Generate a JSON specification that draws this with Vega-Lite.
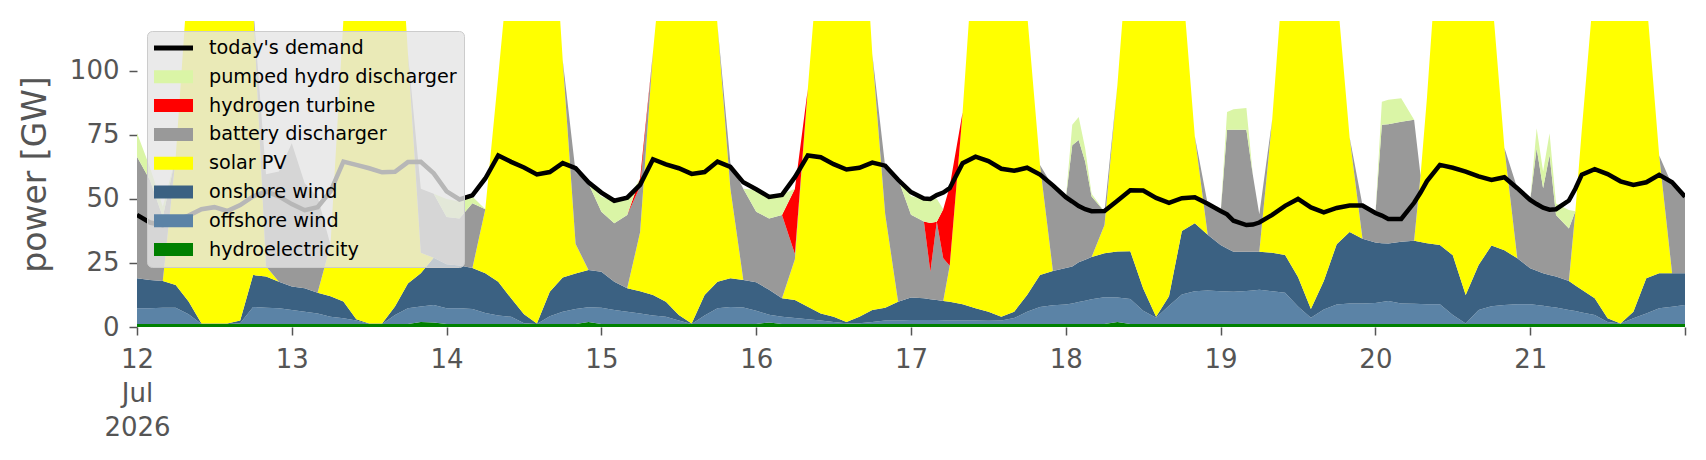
{
  "$schema": "https://vega.github.io/schema/vega-lite/v6.json",
  "width": 1548,
  "height": 306,
  "autosize": "none",
  "padding": {"left": 137, "top": 21, "right": 21, "bottom": 133},
  "background": "white",
  "config": {"view": {"stroke": null}, "font": "DejaVu Sans"},
  "datasets": {
    "stackorder": [
      {"src": "hy", "o": 1},
      {"src": "off", "o": 2},
      {"src": "on", "o": 3},
      {"src": "pv", "o": 4},
      {"src": "bat", "o": 5},
      {"src": "h2", "o": 6},
      {"src": "ph", "o": 7}
    ]
  },
  "data": {"values": [
    {"d": "2026-07-12T00:00", "hy": 1.2, "off": 6.1, "on": 11.7, "pv": 0, "bat": 47.5, "h2": 0, "ph": 9.3, "dem": 43.8},
    {"d": "2026-07-12T02:00", "hy": 1.2, "off": 6.1, "on": 11.1, "pv": 0, "bat": 39, "h2": 0, "ph": 5, "dem": 40.8},
    {"d": "2026-07-12T04:00", "hy": 1.2, "off": 6.3, "on": 10.5, "pv": 0, "bat": 25, "h2": 0, "ph": 4, "dem": 39.8},
    {"d": "2026-07-12T06:00", "hy": 1.2, "off": 6.3, "on": 8.9, "pv": 50, "bat": 0, "h2": 0, "ph": 0, "dem": 41.6},
    {"d": "2026-07-12T08:00", "hy": 1.2, "off": 3.8, "on": 5, "pv": 130, "bat": 0, "h2": 0, "ph": 0, "dem": 43.5},
    {"d": "2026-07-12T10:00", "hy": 1.2, "off": 0, "on": 0.2, "pv": 180, "bat": 0, "h2": 0, "ph": 0, "dem": 46},
    {"d": "2026-07-12T12:00", "hy": 1.2, "off": 0, "on": 0.2, "pv": 210, "bat": 0, "h2": 0, "ph": 0, "dem": 46.8},
    {"d": "2026-07-12T14:00", "hy": 1.2, "off": 0, "on": 0.2, "pv": 200, "bat": 0, "h2": 0, "ph": 0, "dem": 45.3},
    {"d": "2026-07-12T16:00", "hy": 1.2, "off": 0.3, "on": 1, "pv": 165, "bat": 0, "h2": 0, "ph": 0, "dem": 47.6},
    {"d": "2026-07-12T18:00", "hy": 1.2, "off": 6.6, "on": 12.5, "pv": 105, "bat": 0, "h2": 0, "ph": 0, "dem": 51},
    {"d": "2026-07-12T20:00", "hy": 1.2, "off": 6.3, "on": 12.2, "pv": 4, "bat": 36, "h2": 0, "ph": 0, "dem": 53},
    {"d": "2026-07-12T22:00", "hy": 1.2, "off": 6.1, "on": 10.4, "pv": 0, "bat": 43, "h2": 0, "ph": 0, "dem": 51},
    {"d": "2026-07-13T00:00", "hy": 1.2, "off": 5.4, "on": 9.2, "pv": 0, "bat": 56, "h2": 0, "ph": 0, "dem": 48},
    {"d": "2026-07-13T02:00", "hy": 1.2, "off": 4.8, "on": 9.1, "pv": 0, "bat": 41, "h2": 0, "ph": 0, "dem": 45.6},
    {"d": "2026-07-13T04:00", "hy": 1.2, "off": 4.1, "on": 8.1, "pv": 0, "bat": 37.5, "h2": 0, "ph": 0, "dem": 46.8},
    {"d": "2026-07-13T06:00", "hy": 1.2, "off": 2.8, "on": 8, "pv": 20, "bat": 0, "h2": 0, "ph": 0, "dem": 53},
    {"d": "2026-07-13T08:00", "hy": 1.2, "off": 2.2, "on": 6.6, "pv": 110, "bat": 0, "h2": 0, "ph": 0, "dem": 64.6},
    {"d": "2026-07-13T10:00", "hy": 1.2, "off": 1.3, "on": 0.5, "pv": 170, "bat": 0, "h2": 0, "ph": 0, "dem": 63.3},
    {"d": "2026-07-13T12:00", "hy": 1.2, "off": 0, "on": 0.2, "pv": 200, "bat": 0, "h2": 0, "ph": 0, "dem": 62},
    {"d": "2026-07-13T14:00", "hy": 1.2, "off": 0, "on": 0.2, "pv": 200, "bat": 0, "h2": 0, "ph": 0, "dem": 60.4},
    {"d": "2026-07-13T16:00", "hy": 1.2, "off": 3.5, "on": 3.3, "pv": 180, "bat": 0, "h2": 0, "ph": 0, "dem": 60.6},
    {"d": "2026-07-13T18:00", "hy": 1.2, "off": 6.1, "on": 9.7, "pv": 90, "bat": 0, "h2": 0, "ph": 0, "dem": 64.4},
    {"d": "2026-07-13T20:00", "hy": 2, "off": 6, "on": 13, "pv": 8, "bat": 25, "h2": 0, "ph": 0, "dem": 64.5},
    {"d": "2026-07-13T22:00", "hy": 1.8, "off": 6.8, "on": 18.4, "pv": 0, "bat": 25, "h2": 0, "ph": 0, "dem": 60},
    {"d": "2026-07-14T00:00", "hy": 1.2, "off": 6.1, "on": 17.2, "pv": 0, "bat": 18.5, "h2": 0, "ph": 7, "dem": 53},
    {"d": "2026-07-14T02:00", "hy": 1.2, "off": 6.1, "on": 16.7, "pv": 0, "bat": 18.4, "h2": 0, "ph": 6.6, "dem": 49.8},
    {"d": "2026-07-14T04:00", "hy": 1.2, "off": 5.8, "on": 16, "pv": 0, "bat": 25.3, "h2": 0, "ph": 2.7, "dem": 51.4},
    {"d": "2026-07-14T06:00", "hy": 1.2, "off": 4.3, "on": 15.5, "pv": 25, "bat": 0, "h2": 0, "ph": 0, "dem": 58},
    {"d": "2026-07-14T08:00", "hy": 1.2, "off": 3.3, "on": 13.2, "pv": 80, "bat": 0, "h2": 0, "ph": 0, "dem": 67},
    {"d": "2026-07-14T10:00", "hy": 1.2, "off": 2.8, "on": 7.2, "pv": 140, "bat": 0, "h2": 0, "ph": 0, "dem": 64.5},
    {"d": "2026-07-14T12:00", "hy": 1.2, "off": 0.3, "on": 3.5, "pv": 190, "bat": 0, "h2": 0, "ph": 0, "dem": 62.3},
    {"d": "2026-07-14T14:00", "hy": 1.2, "off": 0, "on": 0.2, "pv": 200, "bat": 0, "h2": 0, "ph": 0, "dem": 59.6},
    {"d": "2026-07-14T16:00", "hy": 1.2, "off": 3, "on": 9.6, "pv": 170, "bat": 0, "h2": 0, "ph": 0, "dem": 60.5},
    {"d": "2026-07-14T18:00", "hy": 1.2, "off": 4.8, "on": 13.3, "pv": 85, "bat": 0, "h2": 0, "ph": 0, "dem": 64},
    {"d": "2026-07-14T20:00", "hy": 1.2, "off": 5.8, "on": 13.9, "pv": 11.5, "bat": 28, "h2": 0, "ph": 0, "dem": 62},
    {"d": "2026-07-14T22:00", "hy": 2, "off": 5.7, "on": 14.6, "pv": 0, "bat": 33.7, "h2": 0, "ph": 0, "dem": 56.5},
    {"d": "2026-07-15T00:00", "hy": 1.2, "off": 6.3, "on": 14.1, "pv": 0, "bat": 23.4, "h2": 0, "ph": 6, "dem": 52.5},
    {"d": "2026-07-15T02:00", "hy": 1.2, "off": 5.4, "on": 11.1, "pv": 0, "bat": 22.8, "h2": 0, "ph": 8.5, "dem": 49.3},
    {"d": "2026-07-15T04:00", "hy": 1.2, "off": 4.8, "on": 9.1, "pv": 0, "bat": 28.6, "h2": 0, "ph": 6, "dem": 50.5},
    {"d": "2026-07-15T06:00", "hy": 1.2, "off": 4.1, "on": 8.7, "pv": 23, "bat": 18, "h2": 3, "ph": 0, "dem": 55.5},
    {"d": "2026-07-15T08:00", "hy": 1.2, "off": 3.3, "on": 8, "pv": 95, "bat": 0, "h2": 0, "ph": 0, "dem": 65.5},
    {"d": "2026-07-15T10:00", "hy": 1.2, "off": 2.8, "on": 5.9, "pv": 150, "bat": 0, "h2": 0, "ph": 0, "dem": 63.5},
    {"d": "2026-07-15T12:00", "hy": 1.2, "off": 1.3, "on": 2.2, "pv": 190, "bat": 0, "h2": 0, "ph": 0, "dem": 62},
    {"d": "2026-07-15T14:00", "hy": 1.2, "off": 0, "on": 0.2, "pv": 200, "bat": 0, "h2": 0, "ph": 0, "dem": 59.8},
    {"d": "2026-07-15T16:00", "hy": 1.2, "off": 3.3, "on": 8, "pv": 180, "bat": 0, "h2": 0, "ph": 0, "dem": 60.5},
    {"d": "2026-07-15T18:00", "hy": 1.2, "off": 6.1, "on": 10.4, "pv": 100, "bat": 0, "h2": 0, "ph": 0, "dem": 64.6},
    {"d": "2026-07-15T20:00", "hy": 1.2, "off": 6.6, "on": 11.2, "pv": 35, "bat": 10, "h2": 0, "ph": 0, "dem": 62.5},
    {"d": "2026-07-15T22:00", "hy": 1.2, "off": 6.4, "on": 10.8, "pv": 0, "bat": 35.6, "h2": 0, "ph": 0, "dem": 56.5},
    {"d": "2026-07-16T00:00", "hy": 1.2, "off": 5.1, "on": 11.2, "pv": 0, "bat": 27.5, "h2": 0, "ph": 8.5, "dem": 53.8},
    {"d": "2026-07-16T02:00", "hy": 1.8, "off": 3, "on": 9.7, "pv": 0, "bat": 27.9, "h2": 0, "ph": 9.2, "dem": 50.8},
    {"d": "2026-07-16T04:00", "hy": 1.2, "off": 2.8, "on": 7.2, "pv": 0, "bat": 32.5, "h2": 0, "ph": 8, "dem": 51.6},
    {"d": "2026-07-16T06:00", "hy": 1.2, "off": 2.3, "on": 7, "pv": 16, "bat": 2, "h2": 25.5, "ph": 0, "dem": 58.5},
    {"d": "2026-07-16T08:00", "hy": 1.2, "off": 1.8, "on": 4.9, "pv": 85, "bat": 0, "h2": 0, "ph": 0, "dem": 67},
    {"d": "2026-07-16T10:00", "hy": 1.2, "off": 1.3, "on": 2.8, "pv": 150, "bat": 0, "h2": 0, "ph": 0, "dem": 66.3},
    {"d": "2026-07-16T12:00", "hy": 1.2, "off": 0.8, "on": 2, "pv": 190, "bat": 0, "h2": 0, "ph": 0, "dem": 63.6},
    {"d": "2026-07-16T14:00", "hy": 1.2, "off": 0.3, "on": 0.5, "pv": 200, "bat": 0, "h2": 0, "ph": 0, "dem": 61.5},
    {"d": "2026-07-16T16:00", "hy": 1.2, "off": 0.3, "on": 2.5, "pv": 185, "bat": 0, "h2": 0, "ph": 0, "dem": 62.2},
    {"d": "2026-07-16T18:00", "hy": 1.2, "off": 0.8, "on": 4.6, "pv": 100, "bat": 0, "h2": 0, "ph": 0, "dem": 64.2},
    {"d": "2026-07-16T20:00", "hy": 1.2, "off": 1.3, "on": 5, "pv": 36.5, "bat": 18.6, "h2": 0, "ph": 0, "dem": 63},
    {"d": "2026-07-16T22:00", "hy": 1.2, "off": 1.3, "on": 7.4, "pv": 0, "bat": 48, "h2": 0, "ph": 0, "dem": 57.5},
    {"d": "2026-07-17T00:00", "hy": 1.2, "off": 1.5, "on": 8.8, "pv": 0, "bat": 32.3, "h2": 0, "ph": 7.3, "dem": 52.7},
    {"d": "2026-07-17T02:00", "hy": 1.2, "off": 1.5, "on": 8.5, "pv": 0, "bat": 30, "h2": 0, "ph": 9, "dem": 50.2},
    {"d": "2026-07-17T03:00", "hy": 1.2, "off": 1.5, "on": 8.1, "pv": 0, "bat": 10.8, "h2": 19, "ph": 10, "dem": 50},
    {"d": "2026-07-17T04:00", "hy": 1.2, "off": 1.5, "on": 7.8, "pv": 0, "bat": 30.6, "h2": 0, "ph": 9, "dem": 51.5},
    {"d": "2026-07-17T05:00", "hy": 1.2, "off": 1.4, "on": 7.6, "pv": 0, "bat": 16.6, "h2": 19.2, "ph": 0, "dem": 52.5},
    {"d": "2026-07-17T06:00", "hy": 1.2, "off": 1.3, "on": 7.4, "pv": 14, "bat": 0, "h2": 31, "ph": 0, "dem": 54.2},
    {"d": "2026-07-17T08:00", "hy": 1.2, "off": 1.3, "on": 6.4, "pv": 75, "bat": 0, "h2": 0, "ph": 0, "dem": 64},
    {"d": "2026-07-17T10:00", "hy": 1.2, "off": 1.3, "on": 4.8, "pv": 150, "bat": 0, "h2": 0, "ph": 0, "dem": 66.5},
    {"d": "2026-07-17T12:00", "hy": 1.2, "off": 1.2, "on": 3.6, "pv": 190, "bat": 0, "h2": 0, "ph": 0, "dem": 64.8},
    {"d": "2026-07-17T14:00", "hy": 1.2, "off": 1.3, "on": 1.5, "pv": 195, "bat": 0, "h2": 0, "ph": 0, "dem": 61.8},
    {"d": "2026-07-17T16:00", "hy": 1.2, "off": 2.3, "on": 2.5, "pv": 170, "bat": 0, "h2": 0, "ph": 0, "dem": 61},
    {"d": "2026-07-17T18:00", "hy": 1.2, "off": 4.8, "on": 6.5, "pv": 110, "bat": 0, "h2": 0, "ph": 0, "dem": 62.2},
    {"d": "2026-07-17T20:00", "hy": 1.2, "off": 6.6, "on": 12.5, "pv": 43, "bat": 0, "h2": 0, "ph": 0, "dem": 59.5},
    {"d": "2026-07-17T22:00", "hy": 1.2, "off": 7.3, "on": 13.4, "pv": 0, "bat": 33, "h2": 0, "ph": 0, "dem": 55.3},
    {"d": "2026-07-18T00:00", "hy": 1.2, "off": 7.6, "on": 14.2, "pv": 0, "bat": 27, "h2": 0, "ph": 0, "dem": 50.7},
    {"d": "2026-07-18T01:00", "hy": 1.2, "off": 8, "on": 14.4, "pv": 0, "bat": 47.4, "h2": 0, "ph": 8, "dem": 49},
    {"d": "2026-07-18T02:00", "hy": 1.2, "off": 8.6, "on": 15.5, "pv": 0, "bat": 47.7, "h2": 0, "ph": 9, "dem": 47.2},
    {"d": "2026-07-18T03:00", "hy": 1.2, "off": 9.1, "on": 16, "pv": 0, "bat": 38.3, "h2": 0, "ph": 5.2, "dem": 46},
    {"d": "2026-07-18T04:00", "hy": 1.2, "off": 9.6, "on": 16.5, "pv": 0, "bat": 23.7, "h2": 0, "ph": 1, "dem": 45.2},
    {"d": "2026-07-18T06:00", "hy": 1.2, "off": 10.4, "on": 17.2, "pv": 11, "bat": 5.2, "h2": 0, "ph": 0, "dem": 45.3},
    {"d": "2026-07-18T08:00", "hy": 2, "off": 9.5, "on": 18, "pv": 65, "bat": 0, "h2": 0, "ph": 0, "dem": 49.3},
    {"d": "2026-07-18T10:00", "hy": 1.2, "off": 9.7, "on": 18.7, "pv": 130, "bat": 0, "h2": 0, "ph": 0, "dem": 53.4},
    {"d": "2026-07-18T12:00", "hy": 1.2, "off": 5.1, "on": 8.7, "pv": 180, "bat": 0, "h2": 0, "ph": 0, "dem": 53.3},
    {"d": "2026-07-18T14:00", "hy": 1.2, "off": 2.4, "on": 0.4, "pv": 200, "bat": 0, "h2": 0, "ph": 0, "dem": 50.4},
    {"d": "2026-07-18T16:00", "hy": 1.2, "off": 7.1, "on": 3.7, "pv": 190, "bat": 0, "h2": 0, "ph": 0, "dem": 48.5},
    {"d": "2026-07-18T18:00", "hy": 1.2, "off": 11.5, "on": 24.8, "pv": 100, "bat": 0, "h2": 0, "ph": 0, "dem": 50.3},
    {"d": "2026-07-18T20:00", "hy": 1.2, "off": 12.8, "on": 26.5, "pv": 34, "bat": 0, "h2": 0, "ph": 0, "dem": 50.7},
    {"d": "2026-07-18T22:00", "hy": 1.2, "off": 13.1, "on": 21.7, "pv": 0, "bat": 12, "h2": 0, "ph": 0, "dem": 48.1},
    {"d": "2026-07-19T00:00", "hy": 1.2, "off": 12.8, "on": 18, "pv": 0, "bat": 12.5, "h2": 0, "ph": 0, "dem": 45.3},
    {"d": "2026-07-19T01:00", "hy": 1.2, "off": 12.7, "on": 16.8, "pv": 0, "bat": 46.3, "h2": 0, "ph": 7, "dem": 44},
    {"d": "2026-07-19T02:00", "hy": 1.2, "off": 12.6, "on": 15.6, "pv": 0, "bat": 47.6, "h2": 0, "ph": 8, "dem": 41.5},
    {"d": "2026-07-19T04:00", "hy": 1.2, "off": 12.9, "on": 15.3, "pv": 0, "bat": 47.6, "h2": 0, "ph": 8.5, "dem": 39.8},
    {"d": "2026-07-19T05:00", "hy": 1.2, "off": 13.1, "on": 15.1, "pv": 0, "bat": 30, "h2": 0, "ph": 0, "dem": 40},
    {"d": "2026-07-19T06:00", "hy": 1.2, "off": 13.3, "on": 14.9, "pv": 0, "bat": 14.6, "h2": 0, "ph": 0, "dem": 40.8},
    {"d": "2026-07-19T08:00", "hy": 1.2, "off": 12.8, "on": 15, "pv": 52, "bat": 0, "h2": 0, "ph": 0, "dem": 43.8},
    {"d": "2026-07-19T10:00", "hy": 1.2, "off": 12.2, "on": 14.7, "pv": 120, "bat": 0, "h2": 0, "ph": 0, "dem": 47.3},
    {"d": "2026-07-19T12:00", "hy": 1.2, "off": 6.8, "on": 11.5, "pv": 180, "bat": 0, "h2": 0, "ph": 0, "dem": 50},
    {"d": "2026-07-19T14:00", "hy": 1.2, "off": 2.4, "on": 3.4, "pv": 200, "bat": 0, "h2": 0, "ph": 0, "dem": 46.7},
    {"d": "2026-07-19T16:00", "hy": 1.2, "off": 5.6, "on": 11.2, "pv": 190, "bat": 0, "h2": 0, "ph": 0, "dem": 44.8},
    {"d": "2026-07-19T18:00", "hy": 1.2, "off": 7.6, "on": 23.5, "pv": 100, "bat": 0, "h2": 0, "ph": 0, "dem": 46.5},
    {"d": "2026-07-19T20:00", "hy": 1.2, "off": 8, "on": 27.9, "pv": 37, "bat": 0, "h2": 0, "ph": 0, "dem": 47.4},
    {"d": "2026-07-19T22:00", "hy": 1.2, "off": 8, "on": 25.3, "pv": 0, "bat": 13, "h2": 0, "ph": 0, "dem": 47.4},
    {"d": "2026-07-20T00:00", "hy": 1.2, "off": 8.2, "on": 23.6, "pv": 0, "bat": 11, "h2": 0, "ph": 0, "dem": 44.5},
    {"d": "2026-07-20T01:00", "hy": 1.2, "off": 8.6, "on": 22.9, "pv": 0, "bat": 46.3, "h2": 0, "ph": 9, "dem": 43.5},
    {"d": "2026-07-20T02:00", "hy": 1.2, "off": 9, "on": 22.4, "pv": 0, "bat": 46.6, "h2": 0, "ph": 9.5, "dem": 42.2},
    {"d": "2026-07-20T04:00", "hy": 1.2, "off": 8, "on": 24.1, "pv": 0, "bat": 46.9, "h2": 0, "ph": 9.1, "dem": 42.2},
    {"d": "2026-07-20T06:00", "hy": 1.2, "off": 7.9, "on": 24.6, "pv": 0, "bat": 47.2, "h2": 0, "ph": 0, "dem": 48.5},
    {"d": "2026-07-20T07:00", "hy": 1.2, "off": 7.8, "on": 24.2, "pv": 26, "bat": 0, "h2": 0, "ph": 0, "dem": 52.5},
    {"d": "2026-07-20T08:00", "hy": 1.2, "off": 7.7, "on": 23.8, "pv": 57, "bat": 0, "h2": 0, "ph": 0, "dem": 57},
    {"d": "2026-07-20T10:00", "hy": 1.2, "off": 7.7, "on": 23.1, "pv": 130, "bat": 0, "h2": 0, "ph": 0, "dem": 63.3},
    {"d": "2026-07-20T12:00", "hy": 1.2, "off": 3.5, "on": 23.3, "pv": 180, "bat": 0, "h2": 0, "ph": 0, "dem": 62.2},
    {"d": "2026-07-20T14:00", "hy": 1.2, "off": 0.2, "on": 11.1, "pv": 200, "bat": 0, "h2": 0, "ph": 0, "dem": 60.7},
    {"d": "2026-07-20T16:00", "hy": 1.2, "off": 5.4, "on": 17.6, "pv": 190, "bat": 0, "h2": 0, "ph": 0, "dem": 58.8},
    {"d": "2026-07-20T18:00", "hy": 1.2, "off": 6.9, "on": 23.7, "pv": 100, "bat": 0, "h2": 0, "ph": 0, "dem": 57.4},
    {"d": "2026-07-20T20:00", "hy": 1.2, "off": 7.4, "on": 21.4, "pv": 40, "bat": 0, "h2": 0, "ph": 0, "dem": 58.5},
    {"d": "2026-07-20T22:00", "hy": 1.2, "off": 7.7, "on": 17.9, "pv": 0, "bat": 27.4, "h2": 0, "ph": 0, "dem": 54.2},
    {"d": "2026-07-21T00:00", "hy": 1.2, "off": 7.7, "on": 14, "pv": 0, "bat": 26.7, "h2": 0, "ph": 0, "dem": 49.6},
    {"d": "2026-07-21T01:00", "hy": 1.2, "off": 7.4, "on": 13.4, "pv": 0, "bat": 47.8, "h2": 0, "ph": 7.8, "dem": 48},
    {"d": "2026-07-21T02:00", "hy": 1.2, "off": 7.1, "on": 12.7, "pv": 0, "bat": 33.2, "h2": 0, "ph": 6.5, "dem": 46.6},
    {"d": "2026-07-21T03:00", "hy": 1.2, "off": 6.7, "on": 12.4, "pv": 0, "bat": 46.9, "h2": 0, "ph": 8.5, "dem": 45.8},
    {"d": "2026-07-21T04:00", "hy": 1.2, "off": 6.4, "on": 12.1, "pv": 0, "bat": 24, "h2": 0, "ph": 4.5, "dem": 46},
    {"d": "2026-07-21T06:00", "hy": 1.2, "off": 5.4, "on": 11.4, "pv": 0, "bat": 20.5, "h2": 0, "ph": 7.2, "dem": 49.4},
    {"d": "2026-07-21T07:00", "hy": 1.2, "off": 5, "on": 10, "pv": 29, "bat": 0, "h2": 0, "ph": 0, "dem": 54},
    {"d": "2026-07-21T08:00", "hy": 1.2, "off": 4.5, "on": 8.8, "pv": 62.5, "bat": 0, "h2": 0, "ph": 0, "dem": 59.5},
    {"d": "2026-07-21T10:00", "hy": 1.2, "off": 3.5, "on": 6.5, "pv": 125, "bat": 0, "h2": 0, "ph": 0, "dem": 61.6},
    {"d": "2026-07-21T12:00", "hy": 1.2, "off": 0.8, "on": 1.4, "pv": 180, "bat": 0, "h2": 0, "ph": 0, "dem": 59.7},
    {"d": "2026-07-21T14:00", "hy": 1.2, "off": 0.2, "on": 0, "pv": 200, "bat": 0, "h2": 0, "ph": 0, "dem": 56.9},
    {"d": "2026-07-21T16:00", "hy": 1.2, "off": 2.2, "on": 2.6, "pv": 190, "bat": 0, "h2": 0, "ph": 0, "dem": 55.5},
    {"d": "2026-07-21T18:00", "hy": 1.2, "off": 4.1, "on": 13.7, "pv": 110, "bat": 0, "h2": 0, "ph": 0, "dem": 56.5},
    {"d": "2026-07-21T20:00", "hy": 1.2, "off": 6.1, "on": 13.7, "pv": 46, "bat": 0, "h2": 0, "ph": 0, "dem": 59.4},
    {"d": "2026-07-21T22:00", "hy": 1.2, "off": 6.7, "on": 13.1, "pv": 0, "bat": 34.5, "h2": 0, "ph": 0, "dem": 56.5},
    {"d": "2026-07-22T00:00", "hy": 1.2, "off": 7.4, "on": 12.4, "pv": 0, "bat": 30, "h2": 0, "ph": 0, "dem": 50.9}
  ]},
  "encoding": {
    "x": {
      "field": "d",
      "type": "temporal",
      "scale": {"domain": [{"year": 2026, "month": 7, "date": 12}, {"year": 2026, "month": 7, "date": 22}]},
      "axis": {
        "title": null,
        "domain": false,
        "grid": false,
        "tickCount": {"interval": "day", "step": 1},
        "tickSize": 8,
        "tickWidth": 1.5,
        "tickColor": "#555555",
        "labelFont": "DejaVu Sans",
        "labelFontSize": 26,
        "labelColor": "#555555",
        "labelPadding": 11,
        "labelLineHeight": 34,
        "labelFlush": false,
        "labelOverlap": false,
        "labelExpr": "date(datum.value) == 12 ? ['12', 'Jul', '2026'] : (date(datum.value) == 22 ? '' : timeFormat(datum.value, '%d'))"
      }
    }
  },
  "layer": [
    {
      "transform": [
        {"fold": ["hy", "off", "on", "pv", "bat", "h2", "ph"], "as": ["src", "gw"]},
        {"lookup": "src", "from": {"data": {"name": "stackorder"}, "key": "src", "fields": ["o"]}}
      ],
      "mark": {"type": "area", "clip": true},
      "encoding": {
        "y": {
          "field": "gw",
          "type": "quantitative",
          "stack": "zero",
          "scale": {"domain": [0, 119.5], "nice": false},
          "axis": {
            "title": "power [GW]",
            "values": [0, 25, 50, 75, 100],
            "domain": false,
            "grid": false,
            "tickSize": 8,
            "tickWidth": 1.5,
            "tickColor": "#555555",
            "labelFont": "DejaVu Sans",
            "labelFontSize": 26,
            "labelColor": "#555555",
            "labelPadding": 10,
            "titleFont": "DejaVu Sans",
            "titleFontSize": 33,
            "titleFontWeight": "normal",
            "titleColor": "#555555",
            "titlePadding": 17
          }
        },
        "order": {"field": "o", "type": "quantitative", "sort": "ascending"},
        "color": {
          "field": "src",
          "type": "nominal",
          "sort": ["dem", "ph", "h2", "bat", "pv", "on", "off", "hy"],
          "scale": {
            "domain": ["dem", "ph", "h2", "bat", "pv", "on", "off", "hy"],
            "range": ["#000000", "#daf5a6", "#ff0000", "#999999", "#ffff00", "#3b6182", "#5b83a6", "#008000"]
          },
          "legend": {
            "title": null,
            "orient": "top-left",
            "offset": 10,
            "zindex": 1,
            "fillColor": "rgba(229,229,229,0.8)",
            "strokeColor": "#cccccc",
            "cornerRadius": 5,
            "padding": 7,
            "labelFont": "DejaVu Sans",
            "labelFontSize": 19.2,
            "labelColor": "#000000",
            "labelLimit": 400,
            "symbolSize": 400,
            "labelOffset": 35,
            "rowPadding": 7.8,
            "labelExpr": "datum.value == 'dem' ? \"today's demand\" : datum.value == 'ph' ? 'pumped hydro discharger' : datum.value == 'h2' ? 'hydrogen turbine' : datum.value == 'bat' ? 'battery discharger' : datum.value == 'pv' ? 'solar PV' : datum.value == 'on' ? 'onshore wind' : datum.value == 'off' ? 'offshore wind' : 'hydroelectricity'",
            "encode": {
              "symbols": {
                "update": {
                  "shape": {"signal": "datum.value == 'dem' ? 'M-1,-0.25H2.9V0.25H-1Z' : 'M-1,-0.65H2.9V0.65H-1Z'"},
                  "fill": {"scale": "color", "field": "value"},
                  "stroke": {"value": "transparent"},
                  "strokeWidth": {"value": 0},
                  "opacity": {"value": 1}
                }
              }
            }
          }
        }
      }
    },
    {
      "mark": {"type": "line", "strokeWidth": 4.5, "clip": true},
      "encoding": {
        "y": {"field": "dem", "type": "quantitative", "title": "power [GW]"},
        "color": {"datum": "dem", "type": "nominal"}
      }
    }
  ]
}
